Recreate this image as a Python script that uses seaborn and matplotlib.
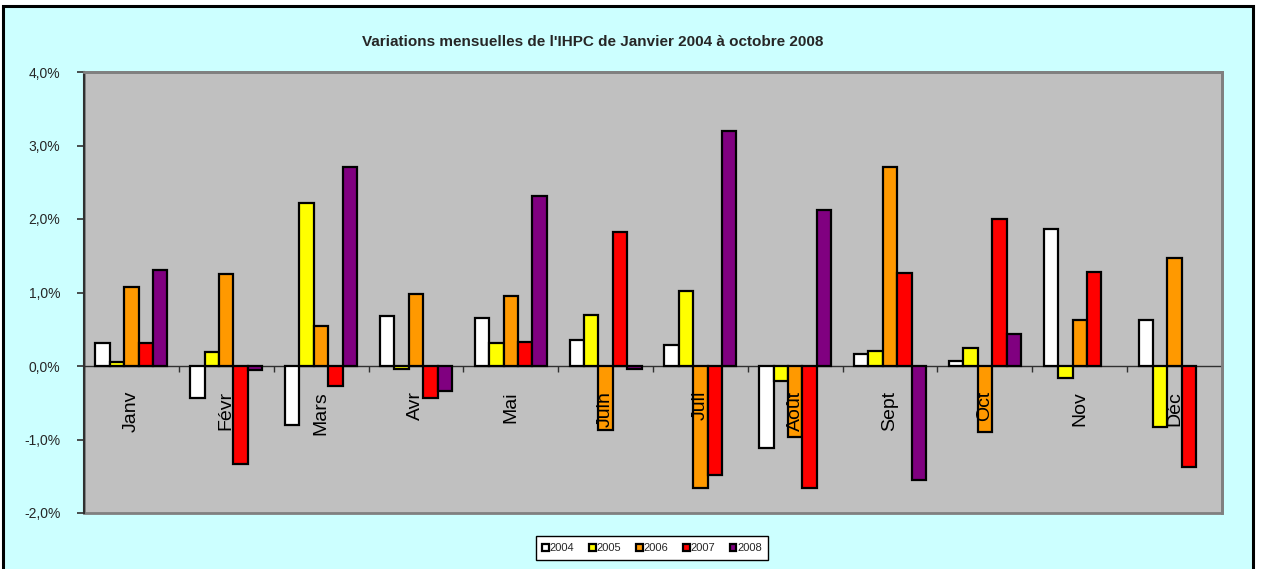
import numpy as np
import pandas as pd
import matplotlib
matplotlib.use('Agg')
import matplotlib.pyplot as plt
from matplotlib.patches import Rectangle
from matplotlib.ticker import FuncFormatter, FixedLocator
import seaborn as sns

# Data (monthly change, %)
months = ['Janv', 'Févr', 'Mars', 'Avr', 'Mai', 'Juin', 'Juil', 'Août', 'Sept', 'Oct', 'Nov', 'Déc']
years = ['2004', '2005', '2006', '2007', '2008']
v2004 = [0.31, -0.43, -0.80, 0.68, 0.65, 0.36, 0.29, -1.11, 0.16, 0.07, 1.87, 0.62]
v2005 = [0.06, 0.19, 2.22, -0.04, 0.31, 0.70, 1.02, -0.20, 0.20, 0.24, -0.17, -0.83]
v2006 = [1.07, 1.25, 0.55, 0.98, 0.95, -0.87, -1.66, -0.96, 2.71, -0.90, 0.62, 1.47]
v2007 = [0.31, -1.34, -0.27, -0.44, 0.33, 1.82, -1.48, -1.66, 1.26, 2.00, 1.28, -1.38]
v2008 = [1.30, -0.06, 2.71, -0.34, 2.31, -0.04, 3.20, 2.12, -1.55, 0.44, np.nan, np.nan]
colors = ['#FFFFFF', '#FFFF00', '#FF9900', '#FF0000', '#800080']

series = dict(zip(years, [v2004, v2005, v2006, v2007, v2008]))
df = pd.DataFrame([
    {'mois': m, 'annee': y, 'valeur': vals[i]}
    for y, vals in series.items() for i, m in enumerate(months)
]).dropna()

sns.set_theme(style='white')
plt.rcParams['font.family'] = ['Liberation Sans', 'DejaVu Sans']

fig = plt.figure(figsize=(12.66, 5.69), dpi=100)
fig.patch.set_facecolor('white')
# cyan chart area with black frame (behind the axes)
fig.patches.append(Rectangle((3 / 1266, -0.05), 1250 / 1266, 1.05 - 6 / 569,
                             transform=fig.transFigure, facecolor='#CCFFFF',
                             edgecolor='black', linewidth=2.2, zorder=-10))

ax = fig.add_axes([84 / 1266, 1 - 513 / 569, (1222 - 84) / 1266, (513 - 72) / 569])
ax.set_zorder(1)
ax.set_facecolor('#C0C0C0')

sns.barplot(data=df, x='mois', y='valeur', hue='annee', order=months, hue_order=years,
            palette=colors, width=0.76, edgecolor='black', linewidth=1.6,
            saturation=1, errorbar=None, ax=ax, zorder=3)

ax.set_ylim(-2, 4)
ax.set_xlim(-0.5, 11.5)
ax.yaxis.set_major_locator(FixedLocator([-2, -1, 0, 1, 2, 3, 4]))
ax.yaxis.set_major_formatter(FuncFormatter(lambda v, p: f'{v:.1f}%'.replace('.', ',')))
ax.tick_params(axis='y', left=True, direction='out', length=5, width=1.2, color='#303030',
               labelsize=10, pad=12)
ax.set_xlabel('')
ax.set_ylabel('')

# zero line acts as category axis, ticks at category boundaries
ax.spines['bottom'].set_position(('data', 0))
ax.spines['bottom'].set_color('#303030')
ax.spines['bottom'].set_linewidth(1)
ax.spines['bottom'].set_zorder(2)
ax.set_xticks(np.arange(-0.5, 12, 1))
ax.set_xticklabels([])
ax.tick_params(axis='x', bottom=True, direction='out', length=4, width=1, color='#303030')
ax.spines['left'].set_color('#303030')
ax.spines['left'].set_linewidth(1.5)
for s in ['top', 'right']:
    ax.spines[s].set_visible(True)
    ax.spines[s].set_color('#808080')
    ax.spines[s].set_linewidth(2)
ax.add_patch(Rectangle((0, 0), 1, 1, transform=ax.transAxes, fill=False,
                       edgecolor='#808080', linewidth=2, zorder=1, clip_on=False))

# month labels drawn below the zero line, rotated
for i, m in enumerate(months):
    ax.text(i, -0.34, m, rotation=90, ha='center', va='top', fontsize=14,
            color='black', zorder=5)

fig.text(593 / 1266, 1 - 42 / 569, "Variations mensuelles de l'IHPC de Janvier 2004 à octobre 2008",
         ha='center', va='center', fontsize=11, fontweight='bold')

handles, labels = ax.get_legend_handles_labels()
ax.legend(handles, labels, loc='center', bbox_to_anchor=(652 / 1266, 1 - 548 / 569),
          bbox_transform=fig.transFigure, ncol=5, fontsize=8, frameon=True,
          fancybox=False, edgecolor='black', framealpha=1, handlelength=0.6,
          handleheight=0.6, handletextpad=0.05, columnspacing=1.35, borderpad=0.6,
          borderaxespad=0)
ax.get_legend().get_frame().set_linewidth(1)

fig.savefig('out.png', dpi=100)
